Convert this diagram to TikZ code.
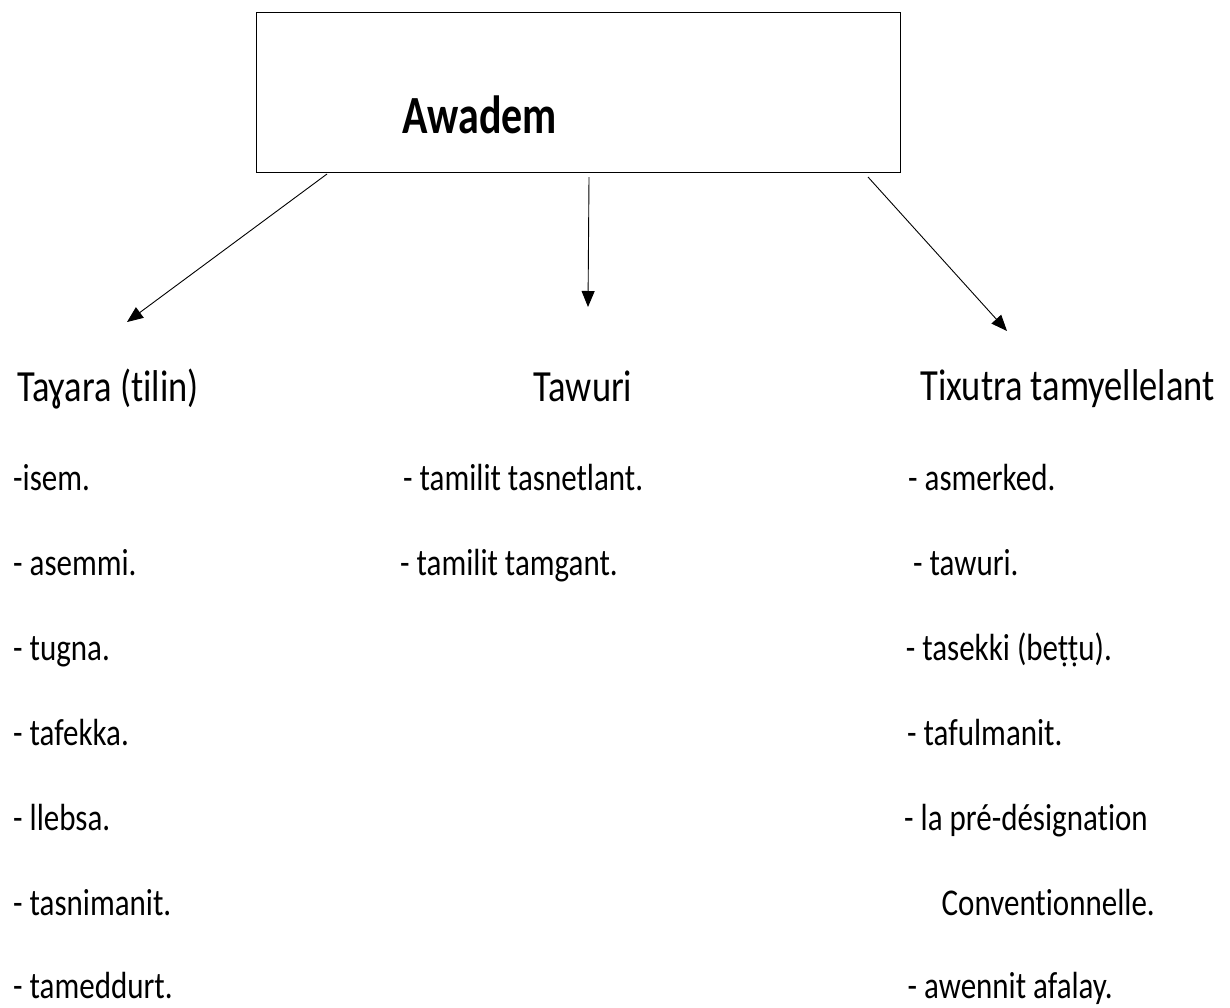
\documentclass[tikz,border=0pt]{standalone}
\usepackage{graphicx}
\usepackage{fontspec}
\setmainfont{Carlito}[Ligatures = NoCommon]
\usetikzlibrary{arrows.meta}

% the glyphs of the scan are drawn taller than wide
\newcommand{\tall}[1]{\scalebox{1}[1.22]{#1}}

\tikzset{
  item/.style = {anchor = base west, inner sep = 0pt, font = \fontsize{31}{37}\selectfont},
  head/.style = {anchor = base west, inner sep = 0pt, font = \fontsize{36.5}{43}\selectfont},
  link/.style = {line width = 0.9pt, -{Triangle[length = 16pt, width = 13pt]}}
}

\begin{document}
\begin{tikzpicture}[x = 1pt, y = -1pt]

      \useasboundingbox (0, 0) rectangle (1230, 1007);

      \node[draw, line width = 1.4pt, minimum width = 644pt, minimum height = 160pt,
        anchor = north west, inner sep = 0pt] (awadem) at (256, 12) {};
      \node[anchor = base west, inner sep = 0pt,
        font = \fontsize{42}{50}\selectfont\bfseries] (awademtxt) at (402, 133) {\scalebox{1}[1.28]{Awadem}};

      \coordinate (fromleft) at (327, 174);
      \coordinate (frommid) at (589, 177);
      \coordinate (fromright) at (868, 177);
      \coordinate (toleft) at (127, 322);
      \coordinate (tomid) at (588, 307);
      \coordinate (toright) at (1007, 331);

      \draw[link] (fromleft) -- (toleft);
      \draw[link] (frommid) -- (tomid);
      \draw[link] (fromright) -- (toright);

      % left column
      \node[head] (tayara) at (17, 401) {\tall{Taɣara (tilin)}};
      \node[item] (isem) at (13, 490) {\tall{-isem.}};
      \node[item] (asemmi) at (13, 575) {\tall{- asemmi.}};
      \node[item] (tugna) at (13, 660) {\tall{- tugna.}};
      \node[item] (tafekka) at (13, 745) {\tall{- tafekka.}};
      \node[item] (llebsa) at (13, 830) {\tall{- llebsa.}};
      \node[item] (tasnimanit) at (13, 915) {\tall{- tasnimanit.}};
      \node[item] (tameddurt) at (13, 998) {\tall{- tameddurt.}};

      % middle column
      \node[head, anchor = base] (tawuri) at (583, 401) {\tall{Tawuri}};
      \node[item] (tasnetlant) at (403, 490) {\tall{- tamilit tasnetlant.}};
      \node[item] (tamgant) at (400, 575) {\tall{- tamilit tamgant.}};

      % right column
      \node[head, anchor = base east] (tixutra) at (1215, 400) {\tall{Tixutra tamyellelant}};
      \node[item] (asmerked) at (908, 490) {\tall{- asmerked.}};
      \node[item] (tawurir) at (913, 575) {\tall{- tawuri.}};
      \node[item, anchor = base east] (tasekki) at (1112, 660) {\tall{- tasekki (beṭṭu).}};
      \node[item] (tafulmanit) at (907, 745) {\tall{- tafulmanit.}};
      \node[item, anchor = base east] (designation) at (1148, 830) {\tall{- la pré-désignation}};
      \node[item, anchor = base east] (conventionnelle) at (1155, 915) {\tall{Conventionnelle.}};
      \node[item, anchor = base east] (awennit) at (1113, 998) {\tall{- awennit afalay.}};

\end{tikzpicture}
\end{document}
